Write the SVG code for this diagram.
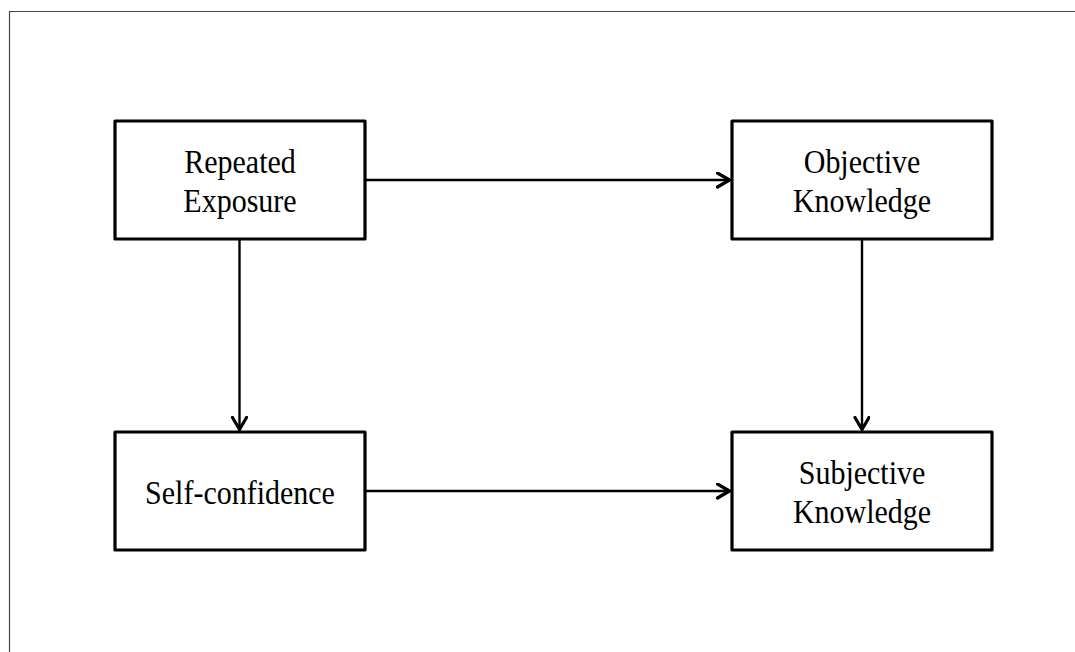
<svg xmlns="http://www.w3.org/2000/svg" width="1075" height="652" viewBox="0 0 1075 652">
<style>
.box{fill:#fff;stroke:#000;stroke-width:3.2;stroke-linejoin:round}
.lbl{font-family:"Liberation Serif","Times New Roman",serif;font-size:30px;fill:#000;text-anchor:middle}
.con{fill:none;stroke:#000;stroke-width:2.4}
</style>
<defs>
<marker id="arr" markerUnits="userSpaceOnUse" markerWidth="20" markerHeight="20" refX="14" refY="8" orient="auto">
<polyline points="1.5,1 13.5,8 1.5,15" fill="none" stroke="#000" stroke-width="3.2" stroke-linecap="round" stroke-linejoin="round"/>
</marker>
</defs>
<rect width="1075" height="652" fill="#fff"/>
<path d="M9.5,652 V11.5 H1075" fill="none" stroke="#444" stroke-width="1.2"/>
<g id="connectors">
<line class="con" x1="366" y1="180" x2="730" y2="180" marker-end="url(#arr)"/>
<line class="con" x1="239.5" y1="239" x2="239.5" y2="430" marker-end="url(#arr)"/>
<line class="con" x1="862" y1="239" x2="862" y2="430" marker-end="url(#arr)"/>
<line class="con" x1="366" y1="491" x2="730" y2="491" marker-end="url(#arr)"/>
</g>
<g id="repeated-exposure">
<rect class="box" x="115" y="121" width="250" height="118"/>
<text class="lbl" transform="translate(240,173) scale(1,1.13)">Repeated</text>
<text class="lbl" transform="translate(240,212) scale(1,1.13)">Exposure</text>
</g>
<g id="objective-knowledge">
<rect class="box" x="732" y="121" width="260" height="118"/>
<text class="lbl" transform="translate(862,173) scale(1,1.13)">Objective</text>
<text class="lbl" transform="translate(862,212) scale(1,1.13)">Knowledge</text>
</g>
<g id="self-confidence">
<rect class="box" x="115" y="432" width="250" height="118"/>
<text class="lbl" transform="translate(240,504) scale(1,1.13)">Self-confidence</text>
</g>
<g id="subjective-knowledge">
<rect class="box" x="732" y="432" width="260" height="118"/>
<text class="lbl" transform="translate(862,484) scale(1,1.13)">Subjective</text>
<text class="lbl" transform="translate(862,523) scale(1,1.13)">Knowledge</text>
</g>
</svg>
